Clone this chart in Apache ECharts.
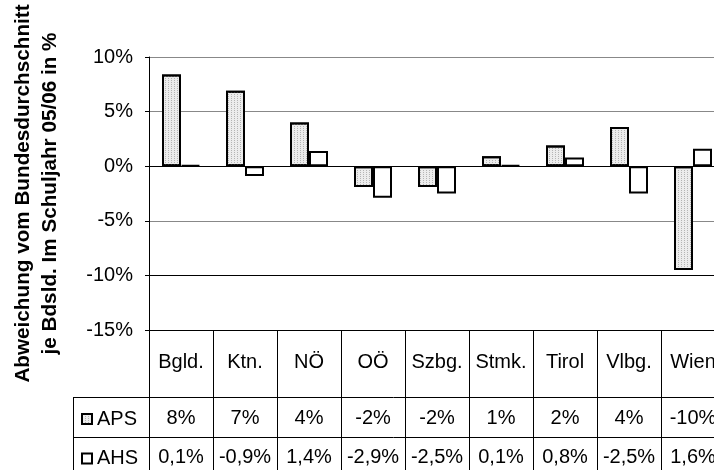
<!DOCTYPE html>
<html>
<head>
<meta charset="utf-8">
<script src="https://cdn.jsdelivr.net/npm/echarts@6/dist/echarts.min.js"></script>
<style>
html, body { margin: 0; padding: 0; background: #fff; }
#chart { width: 714px; height: 470px; }
</style>
</head>
<body>
<div id="chart"></div>
<script>
// Bundesländer
var laender = ['Bgld.', 'Ktn.', 'NÖ', 'OÖ', 'Szbg.', 'Stmk.', 'Tirol', 'Vlbg.', 'Wien'];
// APS: Balkenhöhen, in der Tabelle gerundet
var aps = [8.4, 6.9, 4.0, -1.9, -1.9, 0.9, 1.9, 3.6, -9.5];
var apsTabelle = ['8%', '7%', '4%', '-2%', '-2%', '1%', '2%', '4%', '-10%'];
// AHS
var ahs = [0.1, -0.9, 1.4, -2.9, -2.5, 0.1, 0.8, -2.5, 1.6];
var ahsTabelle = ahs.map(function (v) { return v.toFixed(1).replace('.', ',') + '%'; });

var schrift = 'Liberation Sans';
var gridLeft = 149, gridTop = 57, gridBottom = 330;

var myChart = echarts.init(document.getElementById('chart'));

var option = {
    animation: false,
    backgroundColor: '#fff',
    textStyle: { fontFamily: schrift, color: '#000' },
    grid: {
        left: gridLeft,
        top: gridTop,
        right: -11,
        bottom: 470 - gridBottom,
        containLabel: false,
        outerBoundsMode: 'none'
    },
    legend: {
        data: ['APS', 'AHS'],
        orient: 'vertical',
        left: 81,
        top: 409,
        icon: 'rect',
        itemWidth: 10,
        itemHeight: 10,
        itemGap: 19.5,
        padding: 0,
        textStyle: { fontFamily: schrift, fontSize: 20, color: '#000', lineHeight: 20 }
    },
    xAxis: [{
        type: 'category',
        position: 'bottom',
        data: laender,
        axisLine: { show: true, onZero: false, lineStyle: { color: '#000', width: 1 } },
        axisTick: { show: true, interval: 0, length: 145, lineStyle: { color: '#000' } },
        axisLabel: {
            interval: 0, margin: 32, verticalAlign: 'middle',
            fontSize: 20, color: '#000', fontFamily: schrift
        }
    }, {
        type: 'category',
        position: 'bottom',
        data: laender,
        axisLine: { show: false, onZero: false },
        axisTick: { show: false },
        axisLabel: {
            interval: 0, margin: 88, verticalAlign: 'middle',
            fontSize: 20, color: '#000', fontFamily: schrift,
            formatter: function (v, i) { return apsTabelle[i]; }
        }
    }, {
        type: 'category',
        position: 'bottom',
        data: laender,
        axisLine: { show: false, onZero: false },
        axisTick: { show: false },
        axisLabel: {
            interval: 0, margin: 127, verticalAlign: 'middle',
            fontSize: 20, color: '#000', fontFamily: schrift,
            formatter: function (v, i) { return ahsTabelle[i]; }
        }
    }],
    yAxis: {
        type: 'value',
        min: -15,
        max: 10,
        interval: 5,
        name: 'Abweichung vom Bundesdurchschnitt\nje Bdsld. Im Schuljahr 05/06 in %',
        nameLocation: 'middle',
        nameRotate: 90,
        nameGap: 112,
        nameTextStyle: {
            fontFamily: schrift, fontSize: 20.7, fontWeight: 'bold', color: '#000',
            lineHeight: 27, verticalAlign: 'middle'
        },
        axisLine: { show: true, lineStyle: { color: '#000' } },
        axisTick: { show: true, length: 4, lineStyle: { color: '#000' } },
        axisLabel: {
            margin: 16, fontSize: 20, color: '#000', fontFamily: schrift,
            formatter: '{value}%'
        },
        splitLine: {
            lineStyle: { color: ['#000', '#000', '#888', '#000', '#888', '#888'], width: 1 }
        }
    },
    series: [{
        name: 'APS',
        type: 'bar',
        data: aps,
        barWidth: 19,
        barGap: '0%',
        itemStyle: {
            color: '#ececec',
            borderColor: '#000',
            borderWidth: 2,
            decal: {
                symbol: 'rect',
                symbolSize: 1,
                dashArrayX: [1, 2],
                dashArrayY: [1, 1],
                color: '#b4b4b4'
            }
        }
    }, {
        name: 'AHS',
        type: 'bar',
        data: ahs,
        barWidth: 19,
        itemStyle: {
            color: '#fff',
            borderColor: '#000',
            borderWidth: 2
        }
    }],
    graphic: [{
        type: 'line',
        shape: { x1: 73, y1: 397.5, x2: 714, y2: 397.5 },
        style: { stroke: '#000', lineWidth: 1 }
    }, {
        type: 'line',
        shape: { x1: 73, y1: 437.5, x2: 714, y2: 437.5 },
        style: { stroke: '#000', lineWidth: 1 }
    }, {
        type: 'line',
        shape: { x1: 73.5, y1: 397.5, x2: 73.5, y2: 470 },
        style: { stroke: '#000', lineWidth: 1 }
    }]
};

if (option && typeof option === 'object') {
    myChart.setOption(option, true);
}
</script>
</body>
</html>
